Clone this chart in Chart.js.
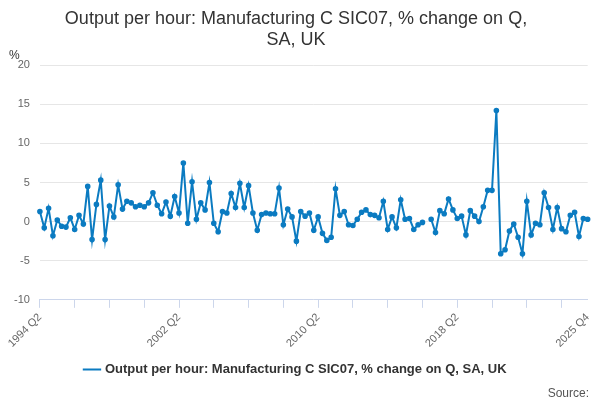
<!DOCTYPE html>
<html>
<head>
<meta charset="utf-8">
<script src="https://cdn.jsdelivr.net/npm/chart.js@4.4.0/dist/chart.umd.min.js"></script>
<style>
  body { margin: 0; background: #fff; }
  #wrap { width: 600px; height: 400px; }
</style>
</head>
<body>
<div id="wrap"><canvas id="grafico"></canvas></div>
<script>
// quarterly % change, 1994 Q2 .. 2025 Q4 (one missing quarter)
const values = [1.3, -0.8, 1.7, -1.8, 0.2, -0.6, -0.7, 0.5, -1.0, 0.8, -0.3, 4.5, -2.3, 2.2, 5.3, -2.3,
  2.0, 0.6, 4.7, 1.6, 2.6, 2.4, 1.9, 2.1, 1.9, 2.4, 3.7, 2.1, 1.0, 2.5, 0.7, 3.2, 1.1, 7.5,
  -0.2, 5.1, 0.3, 2.4, 1.5, 5.0, -0.2, -1.3, 1.3, 1.1, 3.6, 1.8, 4.9, 1.8, 4.6, 1.1, -1.1, 0.9,
  1.1, 1.0, 1.0, 4.3, -0.4, 1.6, 0.6, -2.5, 1.3, 0.7, 1.1, -1.1, 0.6, -1.5, -2.4, -2.0, 4.2,
  0.8, 1.3, -0.4, -0.5, 0.3, 1.2, 1.5, 0.9, 0.8, 0.5, 2.6, -1.0, 0.6, -0.8, 2.8, 0.3, 0.4,
  -1.0, -0.4, -0.1, null, 0.3, -1.4, 1.4, 1.0, 2.9, 1.5, 0.4, 0.7, -1.7, 1.4, 0.7, 0.0, 1.9,
  4.0, 4.0, 14.2, -4.1, -3.6, -1.2, -0.3, -2.0, -4.1, 2.6, -1.7, -0.2, -0.4, 3.7, 1.8, -1.0,
  1.8, -0.9, -1.3, 0.8, 1.2, -1.9, 0.4, 0.3];
const shownLabels = ['1994 Q2', '2002 Q2', '2010 Q2', '2018 Q2', '2025 Q4'];

const labels = [];
let yr = 1994, q = 2;
for (let i = 0; i < values.length; i++) {
  labels.push(yr + ' Q' + q);
  q++; if (q > 4) { q = 1; yr++; }
}

const extras = {
  id: 'extras',
  afterDraw(chart) {
    const c = chart.ctx;
    c.save();
    c.fillStyle = '#333';
    c.font = '12px "Liberation Sans", Arial, sans-serif';
    c.fillText('%', 9, 56);
    c.fillStyle = '#555';
    c.textAlign = 'right';
    c.fillText('Source:', 589, 394);
    c.restore();
  }
};

new Chart(document.getElementById('grafico'), {
  type: 'line',
  data: {
    labels: labels,
    datasets: [{
      label: 'Output per hour: Manufacturing C SIC07, % change on Q, SA, UK',
      data: values,
      borderColor: '#0b7bc1',
      backgroundColor: '#0b7bc1',
      borderWidth: 2,
      pointRadius: 1.8,
      pointHoverRadius: 3,
      tension: 0,
      spanGaps: false
    }]
  },
  options: {
    responsive: true,
    maintainAspectRatio: false,
    animation: false,
    layout: { padding: { left: 4, right: 12, top: 0, bottom: 14 } },
    plugins: {
      title: {
        display: true,
        text: ['Output per hour: Manufacturing C SIC07, % change on Q,', 'SA, UK'],
        color: '#333',
        font: { family: '"Liberation Sans", Arial, sans-serif', size: 18, weight: 'normal' },
        padding: { top: 8, bottom: 14 }
      },
      legend: {
        position: 'bottom',
        labels: {
          usePointStyle: true,
          pointStyle: 'line',
          color: '#333',
          font: { family: '"Liberation Sans", Arial, sans-serif', size: 13, weight: 'bold' }
        }
      },
      tooltip: { enabled: false }
    },
    scales: {
      x: {
        grid: {
          drawOnChartArea: false,
          tickLength: 8,
          color: (ctx) => (ctx.index % 8 === 0 ? '#ccd6eb' : 'rgba(0,0,0,0)')
        },
        border: { color: '#ccd6eb' },
        ticks: {
          autoSkip: false,
          maxRotation: 45,
          minRotation: 45,
          color: '#666',
          font: { family: '"Liberation Sans", Arial, sans-serif', size: 11 },
          callback: function (v, i) {
            const l = labels[i];
            return shownLabels.includes(l) ? l : '';
          }
        }
      },
      y: {
        min: -10,
        max: 20,
        ticks: {
          stepSize: 5,
          color: '#666',
          padding: 10,
          font: { family: '"Liberation Sans", Arial, sans-serif', size: 11 }
        },
        grid: { color: '#e6e6e6', drawTicks: false },
        border: { display: false }
      }
    }
  },
  plugins: [extras]
});
</script>
</body>
</html>
